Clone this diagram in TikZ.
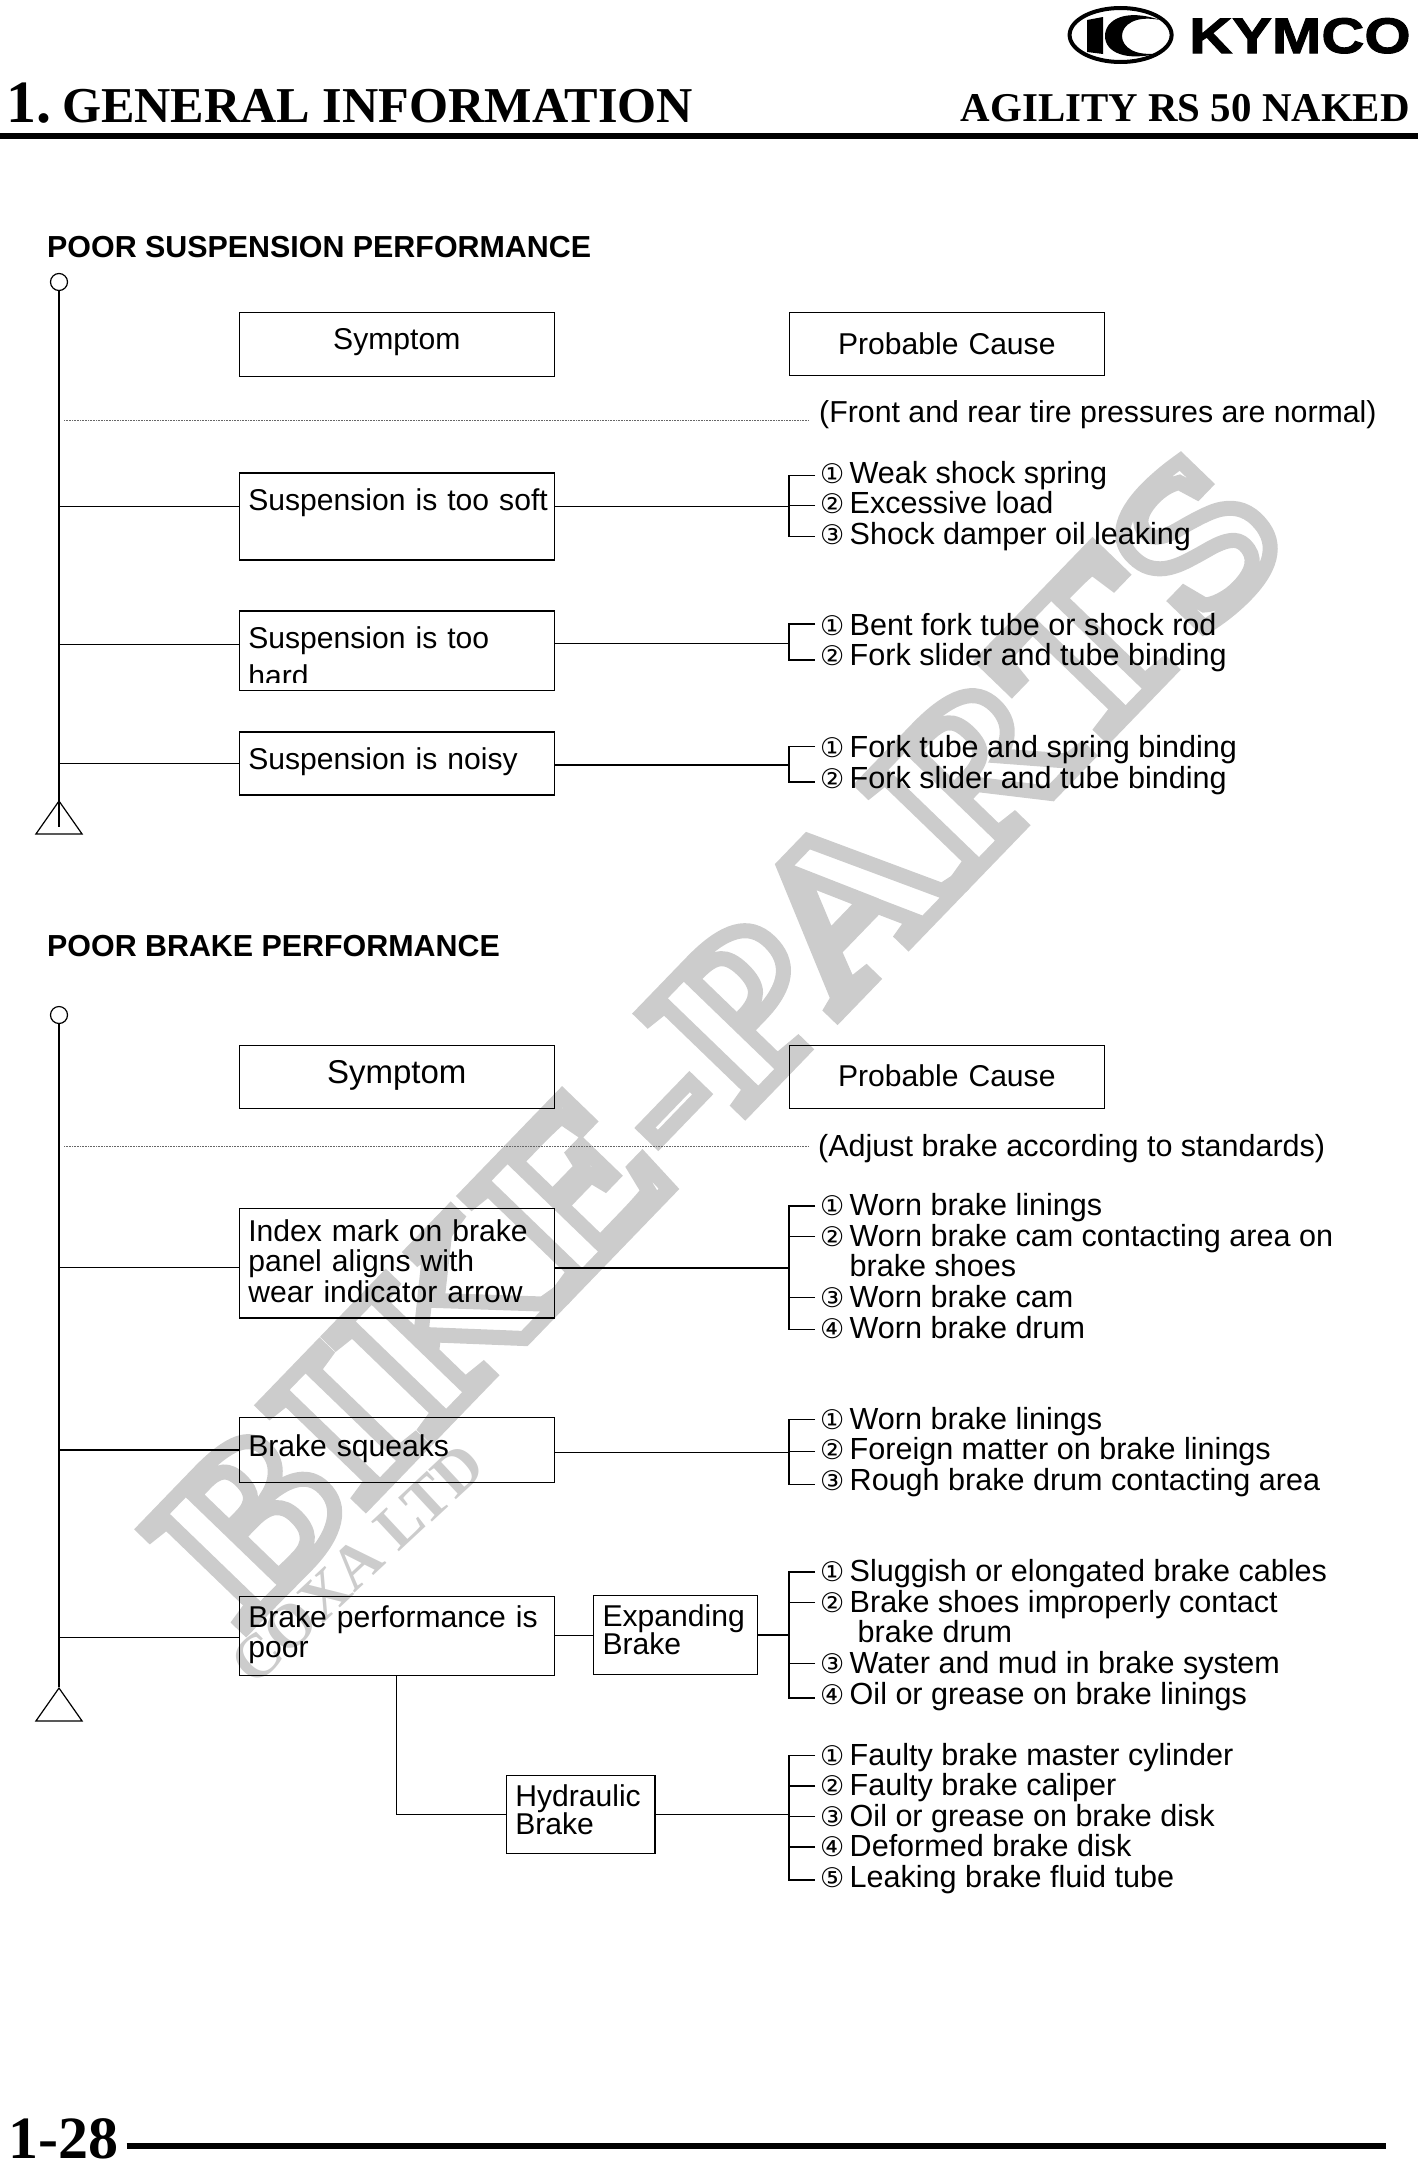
\documentclass[tikz,border=0pt]{standalone}
\usepackage{fontspec}
\setmainfont{Liberation Sans}
\newfontfamily\timesfont{Liberation Serif}
\newfontfamily\circfont{DejaVu Sans}
\newfontfamily\logofont[FakeBold=2,FakeStretch=1.19]{Liberation Sans Bold}
\newfontfamily\markfont[FakeStretch=1.15,LetterSpace=1.5]{Liberation Serif Bold}
\usetikzlibrary{shapes.geometric,positioning}
\newcommand{\cnum}[1]{\makebox[29.5pt][l]{\circfont\fontsize{27}{27}\selectfont #1}}
\definecolor{markgrey}{RGB}{204,204,204}

\begin{document}
\begin{tikzpicture}[x=1pt,y=-1pt,font=\fontsize{30.3}{30.3}\selectfont,
  hbox/.style={draw,line width=1.2pt,inner ysep=0pt,inner xsep=9pt,anchor=north west,align=left,text width=297pt,font=\fontsize{30.1}{30.3}\selectfont},
  cbox/.style={hbox,align=center},
  item/.style={inner ysep=0pt,inner xsep=5pt,anchor=west,text height=22pt,text depth=6pt,font=\fontsize{30.55}{30.55}\selectfont},
  itemb/.style={item,text depth=2.5pt},
  conn/.style={line width=1.3pt},
  dots/.style={line width=.7pt,black!60,dash pattern=on .8pt off .8pt},
  ring/.style={circle,draw,line width=1.2pt,inner sep=0pt,minimum size=17pt},
  tri/.style={isosceles triangle,isosceles triangle apex angle=70,shape border rotate=90,draw,line width=1.2pt,inner sep=0pt,minimum height=33pt,minimum width=46pt},
  heading/.style={anchor=base west,inner sep=0pt,font=\fontsize{30.4}{30.4}\selectfont\bfseries},
  note/.style={anchor=base west,inner sep=0pt},
  bigrule/.style={line width=5.5pt}]
\useasboundingbox (0,0) rectangle (1418,2160);

\node[anchor=base west,inner sep=0pt,text=markgrey,rotate=46,font=\markfont\fontsize{215}{215}\selectfont] (wm1) at (243,1630)
 {\special{pdf:code 1 Tr 15 w 0.8 G}BIKE-PARTS\special{pdf:code 0 Tr}};
\node[anchor=base west,inner sep=0pt,text=markgrey,rotate=43,font=\timesfont\fontsize{62}{62}\selectfont\bfseries] (wm2) at (254,1688)
 {COXA LTD};

\draw[line width=4pt] (1120.6,35) ellipse [x radius=51pt,y radius=27pt];
\fill (1087,20) -- (1103,17) -- (1103,54) -- (1087,52) -- cycle;
\fill (1160,20) .. controls (1125,8) and (1105,20) .. (1105,36) .. controls (1105,52) and (1125,62) .. (1160,53)
  .. controls (1135,57) and (1122,47) .. (1122,36) .. controls (1122,25) and (1135,15) .. (1160,20) -- cycle;
\node[anchor=base west,inner sep=0pt,font=\logofont\fontsize{50}{50}\selectfont] (logo) at (1189,53) {KYMCO};

\node[anchor=base west,inner sep=0pt,font=\timesfont\fontsize{60}{60}\selectfont\bfseries] (chap) at (6,122) {1.};
\node[anchor=base west,inner sep=0pt,font=\timesfont\fontsize{50.2}{50}\selectfont\bfseries] (title) at (62,122) {GENERAL INFORMATION};
\node[anchor=base east,inner sep=0pt,font=\timesfont\fontsize{40.9}{41}\selectfont\bfseries] (model) at (1410,121) {AGILITY RS 50 NAKED};
\draw[bigrule] (0,136) -- (1418,136);

\coordinate (brk) at (789,0);

\node[heading] (h1) at (47,257) {POOR SUSPENSION PERFORMANCE};
\node[ring] (ring1) at (59,282) {};
\node[tri] (tri1) at (59,822) {};
\coordinate (end1) at (59,827);
\draw[conn] (ring1) -- (end1);

\node[cbox,text height=36.5pt,text depth=27pt] (sym1) at (238.7,312) {Symptom};
\node[cbox,text height=41.5pt,text depth=21.5pt] (cau1) at (788.7,312) {Probable Cause};
\node[note] (n1) at (819,422) {(Front and rear tire pressures are normal)};
\draw[dots] (64,420) -- ([xshift=-10pt]n1.base west |- 0,420);

\node[hbox,text height=37pt,text depth=50pt] (s1) at (238.7,472.4) {\mbox{Suspension is too soft}};
\node[hbox,text height=37.6pt,text depth=42pt] (s2) at (238.7,610.4) {Suspension is too\\[7.5pt]hard};
\fill[white] (239.7,682.5) rectangle (552.7,689);
\node[hbox,text height=38pt,text depth=25pt] (s3) at (238.7,731.3) {Suspension is noisy};

\node[item] (c1a) at (815,475.3) {\cnum{①}Weak shock spring};
\node[item] (c1b) at (815,505.8) {\cnum{②}Excessive load};
\node[item] (c1c) at (815,536.3) {\cnum{③}Shock damper oil leaking};
\node[item] (c2a) at (815,627) {\cnum{①}Bent fork tube or shock rod};
\node[item] (c2b) at (815,657) {\cnum{②}Fork slider and tube binding};
\node[item] (c3a) at (815,749.5) {\cnum{①}Fork tube and spring binding};
\node[item] (c3b) at (815,780) {\cnum{②}Fork slider and tube binding};

\draw[conn] ([yshift=10pt]s1.west) -- ([yshift=10pt]s1.west -| ring1);
\draw[conn] ([yshift=6pt]s2.west) -- ([yshift=6pt]s2.west -| ring1);
\draw[conn] (s3.west) -- (s3.west -| ring1);
\draw[conn] ([yshift=10pt]s1.east) -- ([yshift=10pt]s1.east -| brk);
\draw[conn] ([yshift=7pt]s2.east) -- ([yshift=7pt]s2.east -| brk);
\draw[conn] ([yshift=-1.5pt]s3.east) -- ([yshift=-1.5pt]s3.east -| brk);
\draw[conn] (c1a.west) -- (c1a.west -| brk) -- (c1c.west -| brk) -- (c1c.west);
\draw[conn] (c1b.west) -- (c1b.west -| brk);
\draw[conn] ([yshift=3pt]c2a.west) -- ([yshift=3pt]c2a.west -| brk) -- ([yshift=-3pt]c2b.west -| brk) -- ([yshift=-3pt]c2b.west);
\draw[conn] ([yshift=3pt]c3a.west) -- ([yshift=3pt]c3a.west -| brk) -- ([yshift=-2pt]c3b.west -| brk) -- ([yshift=-2pt]c3b.west);

\node[heading] (h2) at (47,956) {POOR BRAKE PERFORMANCE};
\node[ring] (ring2) at (59,1015) {};
\node[tri] (tri2) at (59,1709) {};
\draw[conn] (ring2) -- (tri2.apex);

\node[cbox,text height=38pt,text depth=25pt,font=\fontsize{33}{33}\selectfont] (sym2) at (238.7,1044.5) {Symptom};
\node[cbox,text height=41.5pt,text depth=21.5pt] (cau2) at (788.7,1044.5) {Probable Cause};
\node[note,font=\fontsize{30.5}{30.5}\selectfont] (n2) at (818,1156) {(Adjust brake according to standards)};
\draw[dots] (64,1146.7) -- ([xshift=-9pt]n2.base west |- 0,1146.7);

\node[hbox,text height=33.3pt,text depth=76.6pt] (b1) at (238.7,1207.5) {Index mark on brake\\panel aligns with\\wear indicator arrow};
\node[hbox,text height=39pt,text depth=25.5pt] (b2) at (238.7,1417) {Brake squeaks};
\node[hbox,text height=31.4pt,text depth=47.5pt] (b3) at (238.7,1595.6) {Brake performance is\\poor};
\node[hbox,text width=146pt,text height=31pt,text depth=47.5pt] (exp) at (593,1595) {Expanding\\[-2pt]Brake};
\node[hbox,text width=130.6pt,text height=31.5pt,text depth=47pt] (hyd) at (505.7,1774.5) {Hydraulic\\[-2pt]Brake};

\node[itemb] (d1a) at (815,1206) {\cnum{①}Worn brake linings};
\node[itemb] (d1b) at (815,1236.6) {\cnum{②}Worn brake cam contacting area on};
\node[itemb] (d1x) at (815,1267.2) {\hspace*{29.5pt}brake shoes};
\node[itemb] (d1c) at (815,1297.8) {\cnum{③}Worn brake cam};
\node[itemb] (d1d) at (815,1328.4) {\cnum{④}Worn brake drum};
\node[itemb] (d2a) at (815,1419.5) {\cnum{①}Worn brake linings};
\node[itemb] (d2b) at (815,1450) {\cnum{②}Foreign matter on brake linings};
\node[itemb] (d2c) at (815,1480.5) {\cnum{③}Rough brake drum contacting area};
\node[itemb] (d3a) at (815,1572) {\cnum{①}Sluggish or elongated brake cables};
\node[itemb] (d3b) at (815,1602.6) {\cnum{②}Brake shoes improperly contact};
\node[itemb] (d3x) at (815,1633.2) {\hspace*{37.5pt}brake drum};
\node[itemb] (d3c) at (815,1663.8) {\cnum{③}Water and mud in brake system};
\node[itemb] (d3d) at (815,1694.4) {\cnum{④}Oil or grease on brake linings};
\node[itemb] (d4a) at (815,1755.5) {\cnum{①}Faulty brake master cylinder};
\node[itemb] (d4b) at (815,1786) {\cnum{②}Faulty brake caliper};
\node[itemb] (d4c) at (815,1816.5) {\cnum{③}Oil or grease on brake disk};
\node[itemb] (d4d) at (815,1847) {\cnum{④}Deformed brake disk};
\node[itemb] (d4e) at (815,1877.5) {\cnum{⑤}Leaking brake fluid tube};

\draw[conn] ([yshift=-4.5pt]b1.west) -- ([yshift=-4.5pt]b1.west -| ring2);
\draw[conn] (b2.west) -- (b2.west -| ring2);
\draw[conn] ([yshift=-2pt]b3.west) -- ([yshift=-2pt]b3.west -| ring2);
\draw[conn] ([yshift=-5pt]b1.east) -- ([yshift=-5pt]b1.east -| brk);
\draw[conn] ([yshift=-2.5pt]b2.east) -- ([yshift=-2.5pt]b2.east -| brk);
\draw[conn] (b3.east) -- (b3.east -| exp.west);
\draw[conn] (exp.east) -- (exp.east -| brk);
\draw[conn] (b3.south) |- (hyd.west);
\draw[conn] (hyd.east) -- (hyd.east -| brk);
\draw[conn] (d1a.west) -- (d1a.west -| brk) -- ([yshift=-1pt]d1d.west -| brk) -- ([yshift=-1pt]d1d.west);
\draw[conn] (d1b.west) -- (d1b.west -| brk);
\draw[conn] (d1c.west) -- (d1c.west -| brk);
\draw[conn] (d2a.west) -- (d2a.west -| brk) -- ([yshift=-4pt]d2c.west -| brk) -- ([yshift=-4pt]d2c.west);
\draw[conn] ([yshift=-1.5pt]d2b.west) -- ([yshift=-1.5pt]d2b.west -| brk);
\draw[conn] (d3a.west) -- (d3a.west -| brk) -- ([yshift=-3.5pt]d3d.west -| brk) -- ([yshift=-3.5pt]d3d.west);
\draw[conn] (d3b.west) -- (d3b.west -| brk);
\draw[conn] (d3c.west) -- (d3c.west -| brk);
\draw[conn] (d4a.west) -- (d4a.west -| brk) -- ([yshift=-2.5pt]d4e.west -| brk) -- ([yshift=-2.5pt]d4e.west);
\draw[conn] (d4b.west) -- (d4b.west -| brk);
\draw[conn] (d4c.west) -- (d4c.west -| brk);
\draw[conn] (d4d.west) -- (d4d.west -| brk);

\node[anchor=base west,inner sep=0pt,font=\timesfont\fontsize{60}{60}\selectfont\bfseries] (page) at (8,2158) {1-28};
\draw[bigrule] (126.6,2146) -- (1386,2146);
\end{tikzpicture}
\end{document}
